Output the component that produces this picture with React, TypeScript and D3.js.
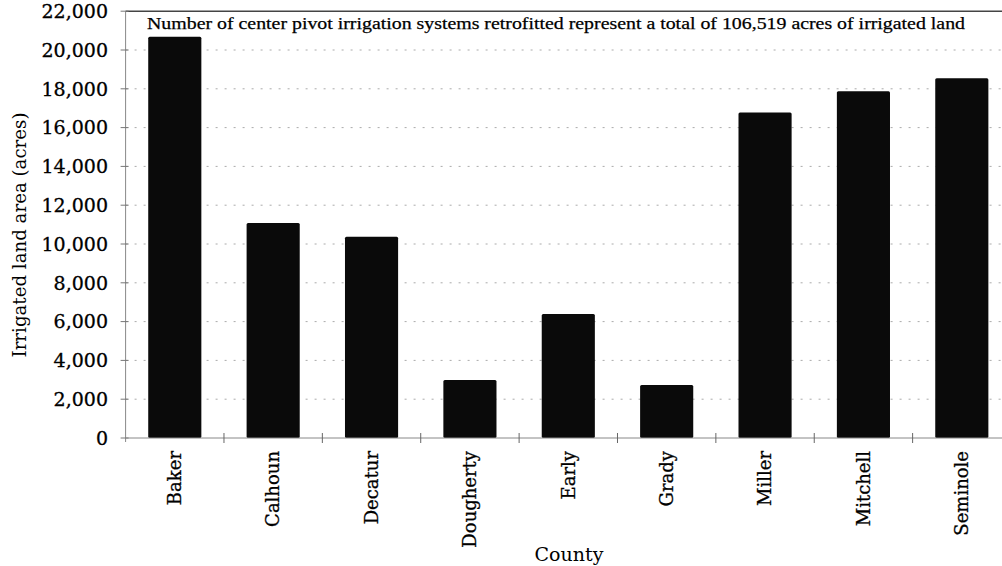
import React from "react";
import * as d3 from "d3";

const counties = ["Baker", "Calhoun", "Decatur", "Dougherty", "Early", "Grady", "Miller", "Mitchell", "Seminole"];
const acres = [20680, 11080, 10370, 2990, 6390, 2730, 16780, 17870, 18540];
const yTicks = [0, 2000, 4000, 6000, 8000, 10000, 12000, 14000, 16000, 18000, 20000, 22000];
const titleText = "Number of center pivot irrigation systems retrofitted represent a total of 106,519 acres of irrigated land";
const yAxisTitle = "Irrigated land area (acres)";
const xAxisTitle = "County";

const W = 1002;
const H = 566;
const left = 125.6;
const right = 1011;
const top = 11.2;
const bottom = 438;
const serif = "'DejaVu Serif', Georgia, serif";
const serif2 = "'Liberation Serif', 'Times New Roman', serif";

export default function App() {
  const x = d3.scaleBand<string>().domain(counties).range([left, right]).paddingInner(0.46).paddingOuter(0.23);
  const step = x.step();
  const y = d3.scaleLinear().domain([0, 22000]).range([bottom, top]);
  const fmt = d3.format(",");
  const boundaries = d3.range(1, counties.length).map((i) => left + i * step);

  return (
    <svg width={W} height={H} style={{ position: "absolute", left: 0, top: 0, background: "#fff" }}>
      <rect width={W} height={H} fill="#fff" />
      {/* grid */}
      {yTicks.slice(1, -1).map((t) => (
        <line key={"g" + t} x1={left} x2={right} y1={y(t)} y2={y(t)} stroke="#aaa" strokeWidth={1} strokeDasharray="2,7" />
      ))}
      {/* top border */}
      <line x1={left} x2={right} y1={y(22000)} y2={y(22000)} stroke="#444" strokeWidth={1.5} />
      {/* bars */}
      {counties.map((c, i) => (
        <rect key={c} x={x(c)} y={y(acres[i])} width={x.bandwidth()} height={bottom - y(acres[i])} fill="#0a0a0a" rx={1.5} />
      ))}
      {/* y axis */}
      <line x1={left} x2={left} y1={top} y2={bottom + 4} stroke="#888" strokeWidth={1} />
      {yTicks.map((t) => (
        <g key={"t" + t}>
          <line x1={left - 5} x2={left + 3} y1={y(t)} y2={y(t)} stroke="#777" strokeWidth={1} />
          <text x={108} y={y(t)} dy="0.36em" textAnchor="end" fontFamily={serif} fontSize={19} fill="#000" stroke="#000" strokeWidth={0.3}>
            {fmt(t)}
          </text>
        </g>
      ))}
      {/* x axis */}
      <line x1={left} x2={right} y1={bottom} y2={bottom} stroke="#888" strokeWidth={1} />
      {boundaries.map((b, i) => (
        <line key={"b" + i} x1={b} x2={b} y1={bottom - 5} y2={bottom + 5} stroke="#666" strokeWidth={1} />
      ))}
      {counties.map((c) => (
        <text
          key={"l" + c}
          transform={`translate(${(x(c) as number) + x.bandwidth() / 2},${bottom + 13}) rotate(-90)`}
          textAnchor="end"
          dy="0.35em"
          fontFamily={serif}
          fontSize={18}
          fill="#000"
          stroke="#000"
          strokeWidth={0.3}
        >
          {c}
        </text>
      ))}
      {/* titles */}
      <text x={147} y={29} fontFamily={serif2} fontSize={17.5} fill="#000" stroke="#000" strokeWidth={0.25} textLength={818} lengthAdjust="spacingAndGlyphs">
        {titleText}
      </text>
      <text transform={`translate(26,235) rotate(-90)`} textAnchor="middle" fontFamily={serif} fontSize={19} fill="#000" textLength={245} lengthAdjust="spacingAndGlyphs">
        {yAxisTitle}
      </text>
      <text x={569} y={561} textAnchor="middle" fontFamily={serif} fontSize={19} fill="#000">
        {xAxisTitle}
      </text>
    </svg>
  );
}
